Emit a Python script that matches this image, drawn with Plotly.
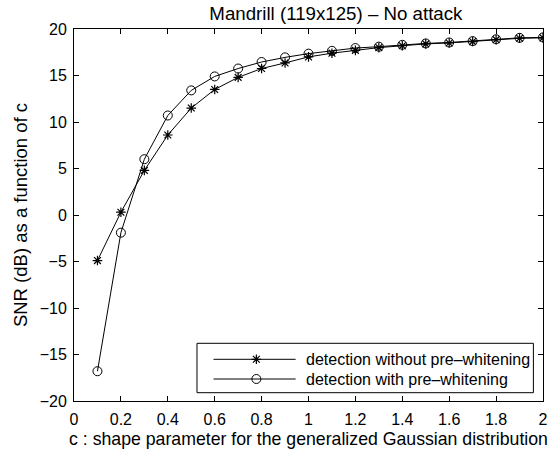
import plotly.graph_objects as go

c_values = [0.1, 0.2, 0.3, 0.4, 0.5, 0.6, 0.7, 0.8, 0.9, 1.0,
            1.1, 1.2, 1.3, 1.4, 1.5, 1.6, 1.7, 1.8, 1.9, 2.0]
snr_without = [-4.9, 0.3, 4.8, 8.6, 11.5, 13.5, 14.8, 15.75, 16.35, 17.0,
               17.4, 17.7, 18.0, 18.2, 18.4, 18.5, 18.65, 18.85, 19.0, 19.05]
snr_with = [-16.8, -1.9, 6.0, 10.7, 13.4, 14.9, 15.75, 16.45, 16.95, 17.35,
            17.65, 17.95, 18.1, 18.3, 18.45, 18.55, 18.7, 18.9, 19.05, 19.1]
series_names = ["detection without pre\u2013whitening", "detection with pre\u2013whitening"]
x_ticks = [0, 0.2, 0.4, 0.6, 0.8, 1, 1.2, 1.4, 1.6, 1.8, 2]
y_ticks = [-20, -15, -10, -5, 0, 5, 10, 15, 20]

FONT = "Liberation Sans, Arial, sans-serif"
W, H = 557, 457
ML, MR, MT, MB = 74, 9, 29, 56
PW, PH = W - ML - MR, H - MT - MB

star_marker = dict(symbol="asterisk-open", size=8, color="black",
                   line=dict(color="black", width=1.2))
circle_marker = dict(symbol="circle-open", size=9, color="black",
                     line=dict(color="black", width=1))

fig = go.Figure()
fig.add_trace(go.Scatter(
    x=c_values, y=snr_without, mode="lines+markers", name=series_names[0],
    line=dict(color="black", width=1), marker=star_marker, showlegend=False,
))
fig.add_trace(go.Scatter(
    x=c_values, y=snr_with, mode="lines+markers", name=series_names[1],
    line=dict(color="black", width=1), marker=circle_marker, showlegend=False,
))

# Hand-drawn legend (MATLAB style) on an invisible overlay axis measured in pixels
leg_box = (124.3, 464.3, 8.3, 57.7)
leg_rows = [41.7, 22.0]
leg_line = (141, 224)
leg_mark_x = 184.3
leg_text_x = 232.7
for name, row, mk in zip(series_names, leg_rows, [star_marker, circle_marker]):
    fig.add_trace(go.Scatter(x=list(leg_line), y=[row, row], mode="lines",
                             line=dict(color="black", width=1),
                             xaxis="x2", yaxis="y2", showlegend=False, hoverinfo="skip"))
    fig.add_trace(go.Scatter(x=[leg_mark_x], y=[row], mode="markers", marker=mk,
                             xaxis="x2", yaxis="y2", showlegend=False, hoverinfo="skip"))
    fig.add_annotation(x=leg_text_x, y=row, xref="x2", yref="y2", text=name,
                       showarrow=False, xanchor="left", yanchor="middle",
                       font=dict(family=FONT, size=16, color="black"))
fig.add_shape(type="rect", xref="x2", yref="y2",
              x0=leg_box[0], x1=leg_box[1], y0=leg_box[2], y1=leg_box[3],
              line=dict(color="black", width=1), fillcolor="white", layer="below")

axis_common = dict(
    showgrid=False, zeroline=False, showline=True, linecolor="black", linewidth=1,
    mirror="ticks", ticks="inside", ticklen=5, tickcolor="black", tickwidth=1,
    tickfont=dict(family=FONT, size=16, color="black"),
)

fig.update_layout(
    width=W, height=H,
    margin=dict(l=ML, r=MR, t=MT, b=MB),
    paper_bgcolor="white", plot_bgcolor="white",
    font=dict(family=FONT, color="black"),
    title=dict(text="Mandrill (119x125) \u2013 No attack", xref="paper",
               x=(ML + PW / 2) / W, xanchor="center",
               y=1 - 13 / H, yanchor="middle",
               font=dict(family=FONT, size=18.7, color="black")),
    xaxis=dict(range=[0, 2], tickvals=x_ticks,
               ticktext=[f"{v:g}" for v in x_ticks], ticklabelstandoff=4,
               title=dict(text="c : shape parameter for the generalized Gaussian distribution",
                          font=dict(family=FONT, size=17.7, color="black"), standoff=5),
               **axis_common),
    yaxis=dict(range=[-20, 20], tickvals=y_ticks,
               ticktext=[("\u2212" + str(-v)) if v < 0 else str(v) for v in y_ticks],
               ticklabelstandoff=3,
               title=dict(text="SNR (dB) as a function of c",
                          font=dict(family=FONT, size=18.5, color="black"), standoff=7),
               **axis_common),
    xaxis2=dict(overlaying="x", anchor="y2", range=[0, PW], visible=False, fixedrange=True),
    yaxis2=dict(overlaying="y", anchor="x2", range=[0, PH], visible=False, fixedrange=True),
    showlegend=False,
)

fig.write_html("out.html")
